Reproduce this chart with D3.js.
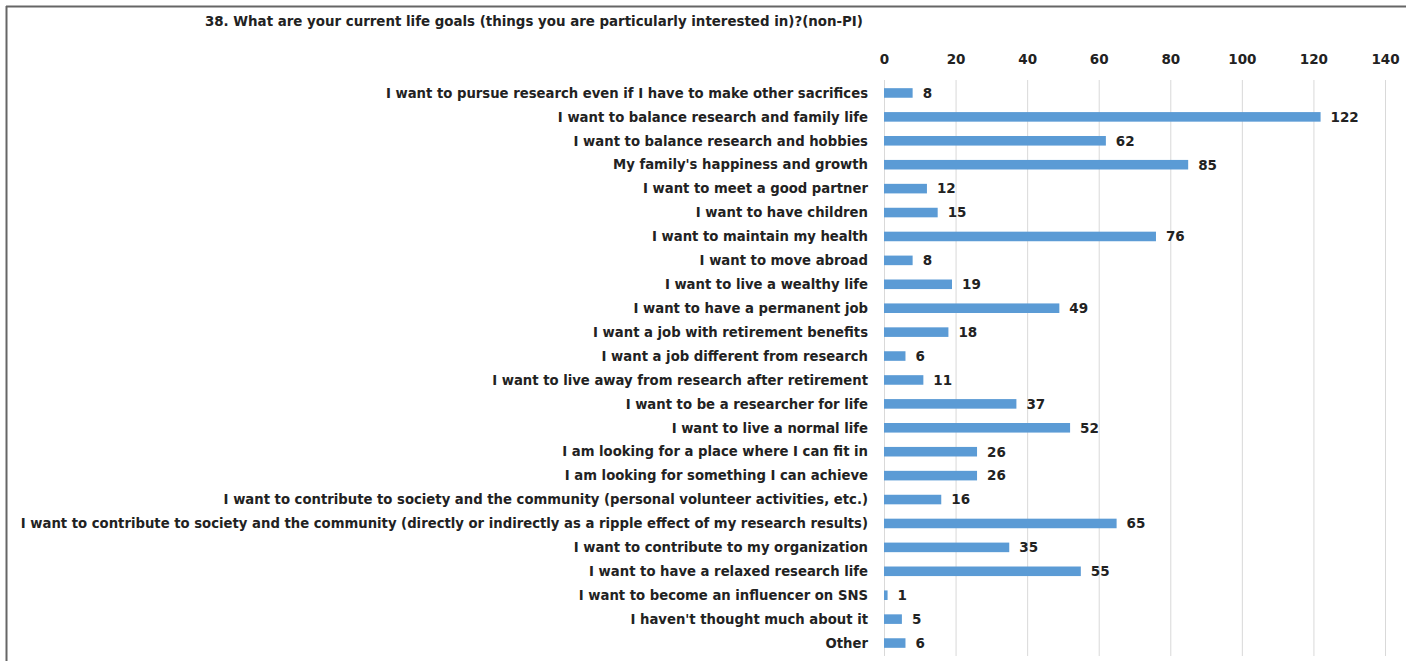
<!DOCTYPE html>
<html><head><meta charset="utf-8">
<script src="https://cdn.jsdelivr.net/npm/d3@7"></script>
<style>body{margin:0;background:#fff}svg{display:block}</style>
</head><body>
<svg id="c" width="1406" height="661"></svg>
<script>
const title = "38. What are your current life goals (things you are particularly interested in)?(non-PI)";
const categories = [
 "I want to pursue research even if I have to make other sacrifices",
 "I want to balance research and family life",
 "I want to balance research and hobbies",
 "My family's happiness and growth",
 "I want to meet a good partner",
 "I want to have children",
 "I want to maintain my health",
 "I want to move abroad",
 "I want to live a wealthy life",
 "I want to have a permanent job",
 "I want a job with retirement benefits",
 "I want a job different from research",
 "I want to live away from research after retirement",
 "I want to be a researcher for life",
 "I want to live a normal life",
 "I am looking for a place where I can fit in",
 "I am looking for something I can achieve",
 "I want to contribute to society and the community (personal volunteer activities, etc.)",
 "I want to contribute to society and the community (directly or indirectly as a ripple effect of my research results)",
 "I want to contribute to my organization",
 "I want to have a relaxed research life",
 "I want to become an influencer on SNS",
 "I haven't thought much about it",
 "Other"
];
const values = [8,122,62,85,12,15,76,8,19,49,18,6,11,37,52,26,26,16,65,35,55,1,5,6];
const ticks = [0,20,40,60,80,100,120,140];

const svg = d3.select("#c");
const font = "Verdana, 'DejaVu Sans', sans-serif";
const x = d3.scaleLinear().domain([0,140]).range([884,1385]);
const y = d3.scaleBand().domain(categories).range([81,655]).paddingInner(0.6).paddingOuter(0.3);

// border
svg.append("line").attr("x1",6).attr("x2",1406).attr("y1",6.5).attr("y2",6.5).attr("stroke","#666").attr("stroke-width",2);
svg.append("line").attr("x1",6.5).attr("x2",6.5).attr("y1",6).attr("y2",661).attr("stroke","#666").attr("stroke-width",2);

const t = svg.append("text").attr("x",205).attr("y",26).attr("font-family",font).attr("font-weight","bold")
  .attr("font-size",12.5).attr("fill","#222").text(title);
t.attr("font-size", 12.5*659/t.node().getComputedTextLength());

// grid
svg.append("g").selectAll("line").data(ticks).join("line")
  .attr("x1",d=>x(d)+0.5).attr("x2",d=>x(d)+0.5).attr("y1",80).attr("y2",656)
  .attr("stroke","#d9d9d9").attr("stroke-width",1);

// axis
const ax = svg.append("g").attr("transform","translate(0,80)")
  .call(d3.axisTop(x).tickValues(ticks).tickSize(0).tickPadding(16));
ax.select(".domain").remove();
ax.selectAll("text").attr("font-family",font).attr("font-weight","bold").attr("font-size",13.5).attr("fill","#222");

// bars
svg.append("g").selectAll("rect").data(values).join("rect")
  .attr("x",x(0)).attr("y",(d,i)=>y(categories[i])).attr("height",y.bandwidth())
  .attr("width",d=>x(d)-x(0)).attr("fill","#5b9bd5");

// value labels
svg.append("g").selectAll("text").data(values).join("text")
  .attr("x",d=>x(d)+10).attr("y",(d,i)=>y(categories[i])+y.bandwidth()/2).attr("dy","0.36em")
  .attr("font-family",font).attr("font-weight","bold").attr("font-size",13.5).attr("fill","#222").text(d=>d);

// category labels
const labs = svg.append("g").selectAll("text").data(categories).join("text")
  .attr("x",868).attr("y",d=>y(d)+y.bandwidth()/2).attr("dy","0.36em").attr("text-anchor","end")
  .attr("font-family",font).attr("font-weight","bold").attr("font-size",12.5).attr("fill","#222").text(d=>d);
let maxW = 0; labs.each(function(){maxW=Math.max(maxW,this.getComputedTextLength());});
labs.attr("font-size",12.5*848/maxW);
</script>
</body></html>
